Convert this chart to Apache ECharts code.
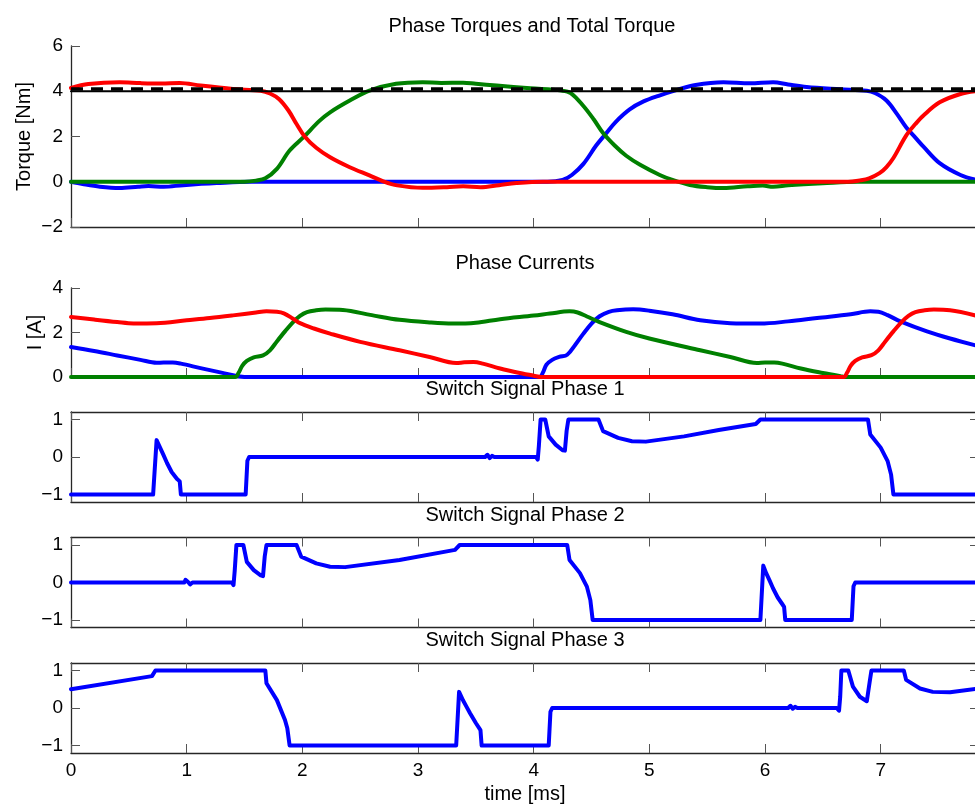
<!DOCTYPE html>
<html>
<head>
<meta charset="utf-8">
<script src="https://cdn.jsdelivr.net/npm/echarts@6/dist/echarts.min.js"></script>
<style>
html,body{margin:0;padding:0;background:#fff;}
#chart{width:975px;height:805px;}
</style>
</head>
<body>
<div id="chart"></div>
<script>
// ---------------- data (time in ms) ----------------
const titles = ['Phase Torques and Total Torque', 'Phase Currents', 'Switch Signal Phase 1', 'Switch Signal Phase 2', 'Switch Signal Phase 3'];
const xTickMax = 7.85;

// Phase torques [Nm]
const torqueP1 = [[0,0],[0.1,-0.1],[0.25,-0.22],[0.42,-0.28],[0.58,-0.22],[0.67,-0.19],[0.8,-0.22],[0.97,-0.15],[1.26,-0.06],[1.55,0],[4.12,0],[4.25,0.08],[4.33,0.3],[4.43,0.79],[4.54,1.6],[4.62,2.1],[4.71,2.65],[4.83,3.2],[4.95,3.55],[5.08,3.8],[5.24,4.06],[5.4,4.28],[5.64,4.4],[5.87,4.35],[6.07,4.4],[6.2,4.3],[6.36,4.19],[6.65,4.09],[6.88,4.02],[6.95,3.92],[7.05,3.59],[7.14,3.0],[7.22,2.41],[7.3,1.95],[7.37,1.55],[7.51,0.82],[7.69,0.3],[7.85,0.05]];
const torqueP2 = [[0,0],[1.5,0],[1.6,0.05],[1.68,0.15],[1.78,0.57],[1.89,1.38],[2.01,1.97],[2.15,2.7],[2.24,3.07],[2.41,3.59],[2.58,4.03],[2.81,4.33],[3.04,4.4],[3.2,4.37],[3.39,4.38],[3.5,4.33],[3.68,4.25],[3.97,4.13],[4.24,4.03],[4.32,3.92],[4.43,3.35],[4.52,2.75],[4.6,2.15],[4.7,1.6],[4.8,1.15],[4.92,0.75],[5.09,0.3],[5.2,0.08],[5.35,-0.14],[5.5,-0.24],[5.64,-0.28],[5.85,-0.2],[5.98,-0.17],[6.07,-0.22],[6.2,-0.16],[6.5,-0.07],[6.8,0],[7.85,0]];
const torqueP3 = [[0,4.15],[0.15,4.32],[0.42,4.4],[0.6,4.36],[0.78,4.34],[0.94,4.37],[1.12,4.25],[1.4,4.1],[1.64,4.02],[1.72,3.9],[1.8,3.65],[1.88,3.15],[1.95,2.55],[2.02,2.0],[2.12,1.5],[2.24,1.08],[2.41,0.64],[2.58,0.28],[2.7,0.02],[2.82,-0.16],[3.04,-0.27],[3.25,-0.24],[3.39,-0.2],[3.54,-0.24],[3.7,-0.15],[3.85,-0.06],[4.08,0],[6.72,0],[6.82,0.06],[6.9,0.15],[6.99,0.38],[7.05,0.65],[7.11,1.05],[7.22,2.04],[7.3,2.55],[7.37,2.93],[7.51,3.51],[7.69,3.88],[7.85,4.02]];
const torqueTotal = [[0,4.1],[7.85,4.1]];
const torqueRef = [[0,4.0],[7.85,4.0]];

// Phase currents [A]
const currentP1 = [[0,1.35],[0.2,1.17],[0.4,0.97],[0.6,0.77],[0.74,0.64],[0.8,0.65],[0.88,0.65],[0.95,0.6],[1.12,0.4],[1.28,0.22],[1.4,0.08],[1.48,0.01],[1.52,0],[4.05,0],[4.08,0.2],[4.11,0.55],[4.16,0.77],[4.22,0.9],[4.29,1.0],[4.36,1.45],[4.43,1.95],[4.5,2.4],[4.57,2.73],[4.65,2.93],[4.72,3.0],[4.86,3.04],[5.0,2.98],[5.2,2.82],[5.44,2.55],[5.7,2.42],[5.96,2.4],[6.2,2.5],[6.45,2.65],[6.74,2.82],[6.91,2.95],[6.98,2.93],[7.06,2.78],[7.17,2.5],[7.4,2.05],[7.6,1.73],[7.85,1.38]];
const currentP2 = [[0,0],[1.42,0],[1.45,0.2],[1.48,0.5],[1.52,0.72],[1.58,0.88],[1.66,0.97],[1.72,1.2],[1.78,1.6],[1.85,2.05],[1.92,2.47],[1.98,2.75],[2.04,2.92],[2.12,3.0],[2.2,3.03],[2.35,3.01],[2.6,2.78],[2.84,2.57],[3.1,2.45],[3.3,2.4],[3.5,2.44],[3.71,2.6],[4.0,2.76],[4.14,2.85],[4.31,2.95],[4.38,2.9],[4.46,2.72],[4.57,2.47],[4.8,2.03],[5.0,1.73],[5.44,1.2],[5.7,0.9],[5.93,0.63],[6.0,0.65],[6.08,0.65],[6.15,0.6],[6.31,0.38],[6.5,0.18],[6.65,0.04],[6.7,0],[7.85,0]];
const currentP3 = [[0,2.7],[0.2,2.58],[0.4,2.47],[0.54,2.41],[0.74,2.42],[1.0,2.55],[1.2,2.65],[1.4,2.77],[1.6,2.9],[1.69,2.95],[1.78,2.93],[1.84,2.86],[1.92,2.62],[1.98,2.42],[2.1,2.18],[2.24,1.95],[2.5,1.58],[2.84,1.2],[3.1,0.9],[3.33,0.63],[3.4,0.66],[3.48,0.67],[3.56,0.6],[3.71,0.38],[3.88,0.18],[4.0,0.06],[4.07,0],[6.68,0],[6.71,0.2],[6.74,0.5],[6.78,0.72],[6.84,0.88],[6.92,0.98],[6.98,1.2],[7.04,1.6],[7.11,2.05],[7.18,2.47],[7.24,2.75],[7.3,2.92],[7.38,3.0],[7.46,3.03],[7.6,3.0],[7.85,2.72]];

// Switch signals
const switchP1 = [[0,-1],[0.71,-1],[0.74,0.45],[0.77,0.25],[0.8,0.05],[0.83,-0.16],[0.87,-0.4],[0.915,-0.58],[0.94,-0.65],[0.95,-1],[1.51,-1],[1.525,-0.1],[1.54,0],[3.58,0],[3.6,0.06],[3.62,-0.03],[3.64,0.03],[3.66,0],[4.02,0],[4.035,-0.07],[4.045,0.3],[4.06,1.0],[4.1,1.0],[4.13,0.55],[4.19,0.33],[4.25,0.18],[4.27,0.17],[4.285,0.7],[4.3,1.0],[4.56,1.0],[4.6,0.69],[4.73,0.51],[4.85,0.42],[4.97,0.41],[5.3,0.55],[5.6,0.72],[5.92,0.88],[5.96,1.0],[6.89,1.0],[6.91,0.6],[7.0,0.25],[7.06,-0.11],[7.09,-0.47],[7.11,-1],[7.85,-1]];
const switchP2 = [[0,0],[0.98,0],[0.99,0.07],[1.01,0.02],[1.03,-0.05],[1.05,0],[1.39,0],[1.405,-0.07],[1.415,0.3],[1.43,1.0],[1.49,1.0],[1.52,0.55],[1.58,0.33],[1.64,0.19],[1.66,0.17],[1.675,0.7],[1.69,1.0],[1.95,1.0],[1.99,0.69],[2.12,0.51],[2.24,0.42],[2.37,0.41],[2.84,0.6],[3.32,0.87],[3.36,1.0],[4.29,1.0],[4.31,0.6],[4.4,0.25],[4.46,-0.11],[4.49,-0.47],[4.51,-1],[5.96,-1],[5.985,0.45],[6.01,0.25],[6.04,0.05],[6.07,-0.16],[6.11,-0.4],[6.15,-0.58],[6.165,-0.65],[6.175,-1],[6.75,-1],[6.765,-0.1],[6.78,0],[7.85,0]];
const switchP3 = [[0,0.5],[0.7,0.85],[0.715,0.9],[0.73,1.0],[1.68,1.0],[1.69,0.66],[1.78,0.21],[1.85,-0.32],[1.87,-0.54],[1.89,-1],[3.33,-1],[3.355,0.43],[3.39,0.2],[3.42,0.03],[3.45,-0.14],[3.5,-0.4],[3.54,-0.59],[3.55,-1],[4.13,-1],[4.145,-0.1],[4.16,0],[6.2,0],[6.22,0.06],[6.24,-0.02],[6.26,0.03],[6.28,0],[6.62,0],[6.64,-0.07],[6.65,0.3],[6.66,1.0],[6.72,1.0],[6.76,0.57],[6.82,0.3],[6.88,0.18],[6.89,0.17],[6.905,0.7],[6.92,1.0],[7.2,1.0],[7.22,0.75],[7.34,0.52],[7.45,0.43],[7.6,0.42],[7.85,0.52]];

// ---------------- chart ----------------
const FONT = "'Liberation Sans', Arial, Helvetica, sans-serif";
const AXIS_COLOR = '#262626';
const TICK_COLOR = '#555';
const minus = v => String(v).replace('-', '\u2212');

const gridBoxes = [
  {top: 46, height: 181},
  {top: 288, height: 89},
  {top: 412, height: 90},
  {top: 537.5, height: 90},
  {top: 663, height: 90}
];
const grid = gridBoxes.map(g => ({left: 71, width: 908, top: g.top, height: g.height, outerBoundsMode: 'none', containLabel: false}));

function xAx(i, pos, labels) {
  return {
    type: 'value', gridIndex: i, position: pos, min: 0, max: xTickMax, interval: 1,
    axisLine: {show: true, onZero: false, lineStyle: {color: AXIS_COLOR, width: 1.3}},
    axisTick: {show: true, inside: true, length: 9, lineStyle: {color: TICK_COLOR, width: 1}},
    axisLabel: {show: labels, margin: 8, fontSize: 19, color: '#000', fontFamily: FONT, showMaxLabel: false},
    splitLine: {show: false}
  };
}
function yAx(i, pos, labels, range, name, gap) {
  const a = {
    type: 'value', gridIndex: i, position: pos, min: range.min, max: range.max,
    axisLine: {show: true, onZero: false, lineStyle: {color: AXIS_COLOR, width: 1.3}},
    axisTick: {show: true, inside: true, length: 9, lineStyle: {color: TICK_COLOR, width: 1}},
    axisLabel: {show: labels, margin: 8, fontSize: 19, color: '#000', fontFamily: FONT, formatter: minus, showMinLabel: true, showMaxLabel: true},
    splitLine: {show: false}
  };
  if (range.interval) a.interval = range.interval;
  if (range.ticks) { a.axisTick.customValues = range.ticks; a.axisLabel.customValues = range.ticks; }
  if (name) {
    a.name = name; a.nameLocation = 'middle'; a.nameGap = gap; a.nameRotate = 90; a.nameMoveOverlap = false;
    a.nameTextStyle = {fontSize: 20, color: '#000', fontFamily: FONT};
  }
  return a;
}
const sw = {min: -1.2, max: 1.2, ticks: [-1, 0, 1]};
const xAxis = [
  xAx(0, 'bottom', false), xAx(1, 'bottom', false), xAx(2, 'bottom', false), xAx(3, 'bottom', false), xAx(4, 'bottom', true),
  xAx(2, 'top', false), xAx(3, 'top', false), xAx(4, 'top', false)
];
xAxis[4].name = 'time [ms]';
xAxis[4].nameLocation = 'middle';
xAxis[4].nameGap = 31;
xAxis[4].nameTextStyle = {fontSize: 20, color: '#000', fontFamily: FONT};

const yAxis = [
  yAx(0, 'left', true, {min: -2, max: 6, interval: 2}, 'Torque [Nm]', 37),
  yAx(1, 'left', true, {min: 0, max: 4, interval: 2}, 'I [A]', 26),
  yAx(2, 'left', true, sw), yAx(3, 'left', true, sw), yAx(4, 'left', true, sw),
  yAx(2, 'right', false, sw), yAx(3, 'right', false, sw), yAx(4, 'right', false, sw)
];

const BLUE = '#0000ff', GREEN = '#008000', RED = '#ff0000';
function line(data, i, color, width, smooth, extra) {
  return Object.assign({
    type: 'line', data: data, xAxisIndex: i, yAxisIndex: i, showSymbol: false, symbol: 'none',
    smooth: smooth ? 0.35 : false,
    lineStyle: {color: color, width: width, cap: 'round', join: 'round'}, animation: false, silent: true
  }, extra || {});
}
const series = [
  line(torqueP1, 0, BLUE, 4, true),
  line(torqueP2, 0, GREEN, 4, true),
  line(torqueP3, 0, RED, 4, true),
  line(torqueRef, 0, '#000', 2, false),
  line(torqueTotal, 0, '#000', 3.5, false, {lineStyle: {color: '#000', width: 3.5, type: [12, 8], cap: 'butt'}}),
  line(currentP1, 1, BLUE, 4, true),
  line(currentP2, 1, GREEN, 4, true),
  line(currentP3, 1, RED, 4, true),
  line(switchP1, 2, BLUE, 4, false),
  line(switchP2, 3, BLUE, 4, false),
  line(switchP3, 4, BLUE, 4, false)
];

const titleX = [532, 525, 525, 525, 525];
const titleY = [26.3, 263.7, 389.2, 515.5, 640.3];
const graphic = titles.map((t, k) => ({
  type: 'text', x: titleX[k], y: titleY[k], silent: true,
  style: {text: t, fill: '#000', font: "20px 'Liberation Sans', Arial, sans-serif", align: 'center', verticalAlign: 'middle'}
}));

const chart = echarts.init(document.getElementById('chart'), null, {renderer: 'canvas'});
chart.setOption({
  animation: false,
  backgroundColor: '#fff',
  textStyle: {fontFamily: FONT},
  grid: grid,
  xAxis: xAxis,
  yAxis: yAxis,
  series: series,
  graphic: graphic
});
</script>
</body>
</html>
